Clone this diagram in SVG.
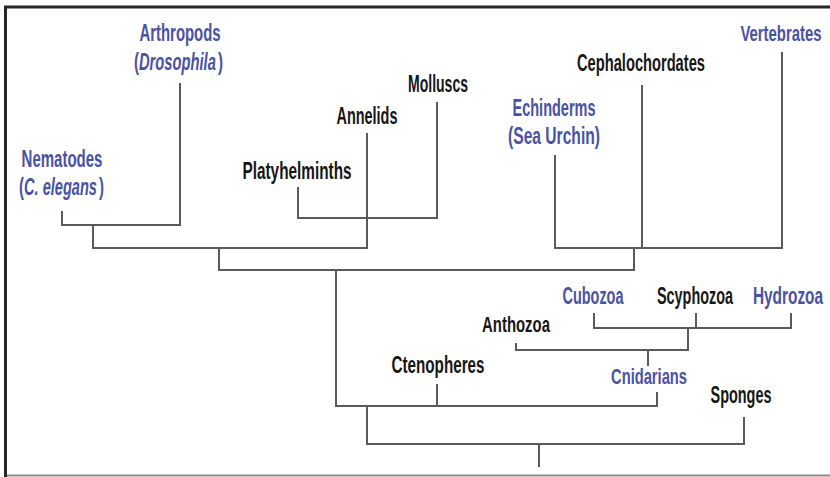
<svg xmlns="http://www.w3.org/2000/svg" width="830" height="477" viewBox="0 0 830 477">
<style>
text{font-family:"Liberation Sans",Arial,sans-serif;font-size:23px;font-weight:bold;text-anchor:middle}
text.s{text-anchor:start}
.b{fill:#4a52a3}
.k{fill:#161616}
.i{font-style:italic}
#connectors path{fill:none;stroke:#5a5a5a;stroke-width:2;stroke-linejoin:miter}
</style>
<rect width="830" height="477" fill="#fff"/>
<g id="frame">
<path d="M5.5 477V7H830" fill="none" stroke="#262626" stroke-width="3"/>
<path d="M7 475.5H830" fill="none" stroke="#8a8a8a" stroke-width="2"/>
</g>
<g id="connectors">
<path d="M62 211V225H180V83"/>
<path d="M93 225V248H367V133"/>
<path d="M298 187V218H437V102"/>
<path d="M219 248V270H634V248"/>
<path d="M555 155V248H782V52"/>
<path d="M642 85V248"/>
<path d="M336 270V406H657V392"/>
<path d="M437 384V406"/>
<path d="M367 406V444H744V417"/>
<path d="M539 444V467"/>
<path d="M594 313V328H791V313"/>
<path d="M696 313V328"/>
<path d="M688 328V350H516V343"/>
<path d="M648 350V366"/>
</g>
<g id="arthropods">
<text class="b" transform="translate(180 41) scale(0.647 1)">Arthropods</text>
<text class="b s" transform="translate(134 70) scale(0.65 1)">(</text>
<text class="b s i" transform="translate(139 70) scale(0.64 1)">Drosophila</text>
<text class="b s" transform="translate(218 70) scale(0.65 1)">)</text>
</g>
<g id="nematodes">
<text class="b" transform="translate(62 167) scale(0.653 1)">Nematodes</text>
<text class="b s" transform="translate(19 195) scale(0.65 1)">(</text>
<text class="b s i" transform="translate(24 195) scale(0.634 1)">C. elegans</text>
<text class="b s" transform="translate(99 195) scale(0.65 1)">)</text>
</g>
<g id="platyhelminths"><text class="k" transform="translate(297 179) scale(0.667 1)">Platyhelminths</text></g>
<g id="annelids"><text class="k" transform="translate(367 124) scale(0.628 1)">Annelids</text></g>
<g id="molluscs"><text class="k" transform="translate(438 92) scale(0.61 1)">Molluscs</text></g>
<g id="cephalochordates"><text class="k" transform="translate(641 71) scale(0.638 1)">Cephalochordates</text></g>
<g id="vertebrates"><text class="b" transform="translate(781 41) scale(0.649 1)">Vertebrates</text></g>
<g id="echinoderms">
<text class="b" transform="translate(554 116) scale(0.63 1)">Echinderms</text>
<text class="b" transform="translate(554 144) scale(0.679 1)">(Sea Urchin)</text>
</g>
<g id="cubozoa"><text class="b" transform="translate(593 304) scale(0.628 1)">Cubozoa</text></g>
<g id="scyphozoa"><text class="k" transform="translate(695 304) scale(0.627 1)">Scyphozoa</text></g>
<g id="hydrozoa"><text class="b" transform="translate(788 304) scale(0.67 1)">Hydrozoa</text></g>
<g id="anthozoa"><text class="k" transform="translate(516 332) scale(0.649 1)">Anthozoa</text></g>
<g id="ctenopheres"><text class="k" transform="translate(438 373) scale(0.662 1)">Ctenopheres</text></g>
<g id="cnidarians"><text class="b" transform="translate(649 384) scale(0.639 1)">Cnidarians</text></g>
<g id="sponges"><text class="k" transform="translate(741 403) scale(0.628 1)">Sponges</text></g>
</svg>
